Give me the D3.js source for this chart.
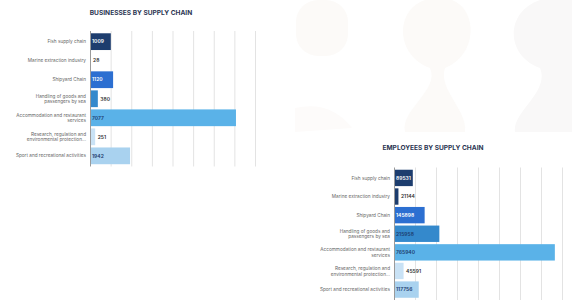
<!DOCTYPE html>
<html>
<head>
<meta charset="utf-8">
<script src="https://cdn.jsdelivr.net/npm/d3@7"></script>
<style>
  html, body { margin: 0; padding: 0; background: #fff; }
  svg { display: block; font-family: Inter, "Noto Sans", sans-serif; }
</style>
</head>
<body>
<svg id="chart" width="572" height="302"></svg>
<script>
// categories shared by both charts
const categories = [
  ["Fish supply chain"],
  ["Marine extraction industry"],
  ["Shipyard Chain"],
  ["Handling of goods and", "passengers by sea"],
  ["Accommodation and restaurant", "services"],
  ["Research, regulation and", "environmental protection..."],
  ["Sport and recreational activities"]
];
const barColors = ["#1d3d6e", "#1d3d6e", "#2c6fd1", "#3489cc", "#5ab2e8", "#c9e2f5", "#a9d2ef"];
const insideText = ["#fff", null, "#fff", null, "#1d3d6e", null, "#1d3d6e"];

const businesses = [1009, 28, 1120, 380, 7077, 251, 1942];
const businessTicks = [0, 1000, 2000, 3000, 4000, 5000, 6000, 7000, 8000];

const employees = [89531, 21144, 145898, 215958, 765940, 45591, 117756];
const employeeTicks = [0, 100000, 200000, 300000, 400000, 500000, 600000, 700000, 800000];
// employees: which values sit inside the bar
const employeeInside = ["#fff", null, "#fff", "#1d3d6e", "#1d3d6e", null, "#1d3d6e"];

const svg = d3.select("#chart");

// faint decorative shapes behind the top right
const deco = svg.append("g").attr("fill", "#fcfaf8");
deco.append("rect").attr("x", 296).attr("y", 0).attr("width", 52).attr("height", 56).attr("rx", 22);
deco.append("path").attr("d", "M295,108 Q330,100 352,128 L295,132 Z").attr("fill", "#fdfbfa");
deco.append("path")
  .attr("d", "M425,0 C395,10 395,55 430,68 C440,90 400,110 405,132 L465,132 C468,110 438,90 445,68 C478,55 478,10 452,0 Z");
deco.append("path").attr("fill", "#f9f8f8")
  .attr("d", "M540,0 C505,12 505,55 540,68 C550,92 512,112 515,132 L572,132 L572,0 Z");

function drawChart(o) {
  const g = svg.append("g");
  const x = d3.scaleLinear().domain(o.domain).range(o.xRange);
  const y = d3.scaleBand().domain(d3.range(o.values.length)).range(o.yRange).padding(0.12);

  g.append("text")
    .attr("x", o.titleX).attr("y", o.titleY)
    .attr("text-anchor", "middle")
    .attr("font-size", 6.6).attr("font-weight", 700)
    .attr("fill", "#2b3552")
    .text(o.title);

  // grid
  g.append("g").selectAll("line")
    .data(o.ticks.slice(1))
    .join("line")
    .attr("x1", d => x(d) + 0.5).attr("x2", d => x(d) + 0.5)
    .attr("y1", o.yRange[0]).attr("y2", o.yRange[1])
    .attr("stroke", "#e3e3e3").attr("stroke-width", 1);

  // bars
  g.append("g").selectAll("rect")
    .data(o.values)
    .join("rect")
    .attr("x", x(0))
    .attr("y", (d, i) => y(i))
    .attr("width", d => Math.max(0.8, x(d) - x(0)))
    .attr("height", y.bandwidth())
    .attr("fill", (d, i) => barColors[i]);

  // axis line
  g.append("line")
    .attr("x1", x(0) + 0.5).attr("x2", x(0) + 0.5)
    .attr("y1", o.yRange[0]).attr("y2", o.yRange[1])
    .attr("stroke", "#9a9a9a");

  // value labels
  g.append("g").selectAll("text")
    .data(o.values)
    .join("text")
    .attr("x", (d, i) => o.inside[i] ? x(0) + 2 : x(d) + 2.5)
    .attr("y", (d, i) => y(i) + y.bandwidth() / 2)
    .attr("dy", "0.35em")
    .attr("font-size", 5)
    .attr("font-weight", 600)
    .attr("fill", (d, i) => o.inside[i] || "#333")
    .text(d => d);

  // category labels
  const cat = g.append("g").selectAll("text")
    .data(categories)
    .join("text")
    .attr("text-anchor", "end")
    .attr("font-size", 4.7)
    .attr("fill", "#666")
    .attr("transform", (d, i) => `translate(${x(0) - 4},${y(i) + y.bandwidth() / 2})`);
  cat.each(function(d) {
    const t = d3.select(this);
    d.forEach((line, k) => {
      t.append("tspan")
        .attr("x", 0)
        .attr("y", (k - (d.length - 1) / 2) * 5.8)
        .attr("dy", "0.35em")
        .text(line);
    });
  });
}

drawChart({
  title: "BUSINESSES BY SUPPLY CHAIN",
  titleX: 141, titleY: 15,
  values: businesses, ticks: businessTicks,
  domain: [0, 8000], xRange: [90, 255],
  yRange: [31, 166.5],
  inside: insideText
});

drawChart({
  title: "EMPLOYEES BY SUPPLY CHAIN",
  titleX: 433, titleY: 150,
  values: employees, ticks: employeeTicks,
  domain: [0, 800000], xRange: [394, 562],
  yRange: [167.5, 300],
  inside: employeeInside
});
</script>
</body>
</html>
